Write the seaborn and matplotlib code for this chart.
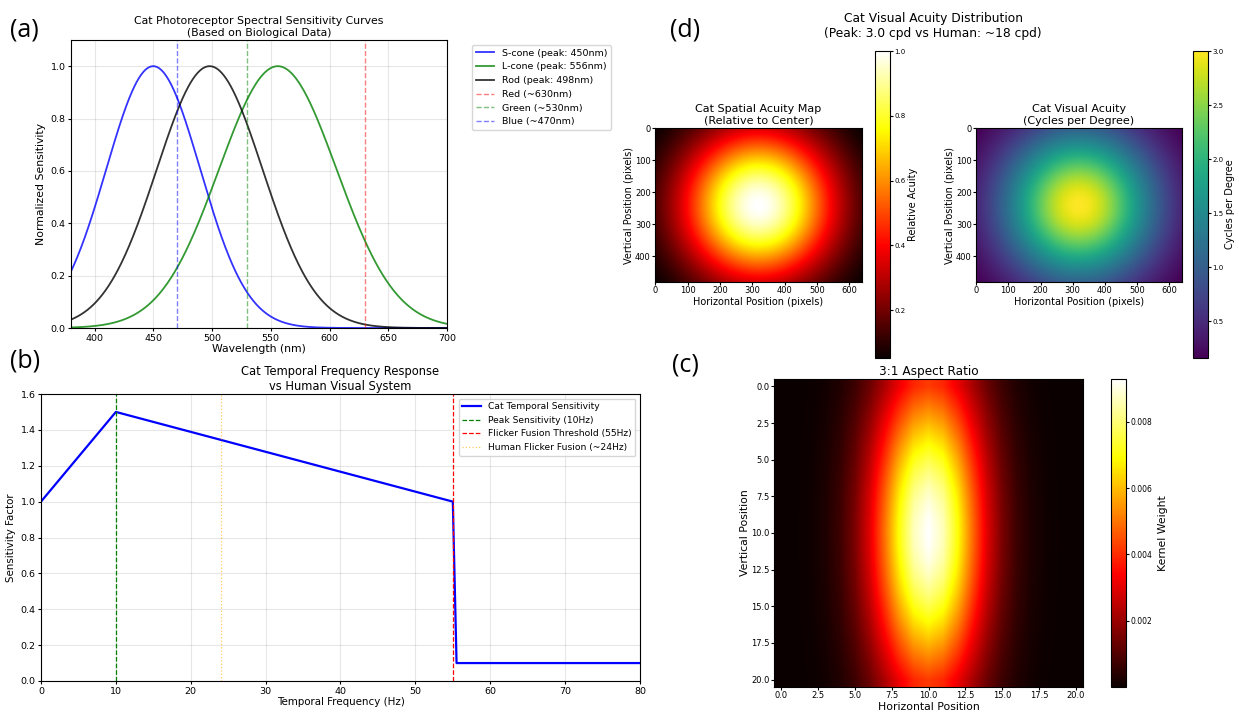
#!/usr/bin/env python3
"""
Cat vision overview: spectral sensitivity, temporal response,
spatial acuity maps and an elongated receptive-field kernel.
"""

import numpy as np
import pandas as pd
import matplotlib
matplotlib.use('Agg')
import matplotlib.pyplot as plt
import seaborn as sns

# ---- data ----
# (a) photoreceptor curves: peak wavelength and width (nm)
receptor_names = ['S-cone (peak: 450nm)', 'L-cone (peak: 556nm)', 'Rod (peak: 498nm)']
receptor_peaks = [450, 556, 498]
receptor_widths = [40, 50, 45]
receptor_colors = ['blue', 'green', 'black']
wavelength_min, wavelength_max = 380, 700

ref_names = ['Red (~630nm)', 'Green (~530nm)', 'Blue (~470nm)']
ref_wavelengths = [630, 530, 470]
ref_colors = ['red', 'green', 'blue']

# (b) temporal sensitivity, piecewise linear
temporal_freq = [0, 10, 55, 55.5, 80]
temporal_sens = [1.0, 1.5, 1.0, 0.1, 0.1]
peak_freq = 10
flicker_fusion = 55
human_flicker = 24

# (d) acuity maps
acuity_width, acuity_height = 640, 480
acuity_sigma = 165
peak_cpd = 3.0

# (c) kernel with 3:1 aspect
kernel_size = 21
kernel_sigma_x = 2.65
kernel_sigma_y = 7.95

W, H = 1239, 715
fig = plt.figure(figsize=(W / 100, H / 100), dpi=100)


def px_axes(x0, y0, x1, y1):
    """axes from pixel box (top-left origin)"""
    return fig.add_axes([x0 / W, 1 - y1 / H, (x1 - x0) / W, (y1 - y0) / H])


def panel_letter(x, y, s):
    fig.text(x / W, 1 - y / H, s, fontsize=18, family='Open Sans', va='center', ha='left')


# ---------------- (a) ----------------
ax_a = px_axes(71, 40, 447, 328)
wl = np.linspace(wavelength_min, wavelength_max, 500)
for name, pk, wd, col in zip(receptor_names, receptor_peaks, receptor_widths, receptor_colors):
    df = pd.DataFrame({'wl': wl, 's': np.exp(-(wl - pk) ** 2 / (2 * wd ** 2))})
    sns.lineplot(data=df, x='wl', y='s', ax=ax_a, color=col, linewidth=1.3, alpha=0.8, label=name)
for name, w, col in zip(ref_names, ref_wavelengths, ref_colors):
    ax_a.axvline(w, color=col, linestyle='--', linewidth=1, alpha=0.5, label=name)
ax_a.set_xlim(wavelength_min, wavelength_max)
ax_a.set_ylim(0, 1.1)
ax_a.grid(True, alpha=0.3)
ax_a.set_xlabel('Wavelength (nm)', fontsize=7.8, labelpad=1)
ax_a.set_ylabel('Normalized Sensitivity', fontsize=7.8, labelpad=3)
ax_a.set_title('Cat Photoreceptor Spectral Sensitivity Curves\n(Based on Biological Data)',
               fontsize=7.8, pad=3)
ax_a.tick_params(labelsize=6.8, length=2.5, pad=1.5)
ax_a.legend(loc='upper left', bbox_to_anchor=(1.066, 0.983), fontsize=6.8, borderaxespad=0)
panel_letter(10, 30, '(a)')

# ---------------- (b) ----------------
ax_b = px_axes(41, 394, 640, 681)
df_b = pd.DataFrame({'f': temporal_freq, 's': temporal_sens})
sns.lineplot(data=df_b, x='f', y='s', ax=ax_b, color='blue', linewidth=1.6,
             label='Cat Temporal Sensitivity')
ax_b.axvline(peak_freq, color='green', linestyle='--', linewidth=0.9, label='Peak Sensitivity (10Hz)')
ax_b.axvline(flicker_fusion, color='red', linestyle='--', linewidth=0.9,
             label='Flicker Fusion Threshold (55Hz)')
ax_b.axvline(human_flicker, color='orange', linestyle=':', linewidth=0.9, alpha=0.6,
             label='Human Flicker Fusion (~24Hz)')
ax_b.set_xlim(0, 80)
ax_b.set_ylim(0, 1.6)
ax_b.grid(True, alpha=0.3)
ax_b.set_xlabel('Temporal Frequency (Hz)', fontsize=7.4, labelpad=1)
ax_b.set_ylabel('Sensitivity Factor', fontsize=7.4, labelpad=3)
ax_b.set_title('Cat Temporal Frequency Response\nvs Human Visual System', fontsize=8.3, pad=3)
ax_b.tick_params(labelsize=6.8, length=2.5, pad=1.5)
ax_b.legend(loc='upper right', fontsize=6.6)
panel_letter(10, 361, '(b)')

# ---------------- (d) ----------------
yy, xx = np.mgrid[0:acuity_height, 0:acuity_width]
rel_acuity = np.exp(-((xx - acuity_width / 2) ** 2 + (yy - acuity_height / 2) ** 2) / (2 * acuity_sigma ** 2))
cpd = rel_acuity * peak_cpd

ax_d1 = px_axes(655, 128, 862, 282)
im1 = ax_d1.imshow(rel_acuity, cmap='hot', aspect='auto')
ax_d1.set_title('Cat Spatial Acuity Map\n(Relative to Center)', fontsize=8, pad=3)
ax_d1.set_xlabel('Horizontal Position (pixels)', fontsize=7, labelpad=1)
ax_d1.set_ylabel('Vertical Position (pixels)', fontsize=7, labelpad=1)
ax_d1.tick_params(labelsize=6, length=2, pad=1)
cax1 = px_axes(875, 51, 890, 358)
cb1 = fig.colorbar(im1, cax=cax1)
cb1.set_label('Relative Acuity', fontsize=7, labelpad=2)
cb1.ax.tick_params(labelsize=5, length=2, pad=1)

ax_d2 = px_axes(976, 128, 1182, 282)
im2 = ax_d2.imshow(cpd, cmap='viridis', aspect='auto')
ax_d2.set_title('Cat Visual Acuity\n(Cycles per Degree)', fontsize=8, pad=3)
ax_d2.set_xlabel('Horizontal Position (pixels)', fontsize=7, labelpad=1)
ax_d2.set_ylabel('Vertical Position (pixels)', fontsize=7, labelpad=1)
ax_d2.tick_params(labelsize=6, length=2, pad=1)
cax2 = px_axes(1193, 51, 1208, 358)
cb2 = fig.colorbar(im2, cax=cax2)
cb2.set_label('Cycles per Degree', fontsize=7, labelpad=1)
cb2.ax.tick_params(labelsize=5, length=2, pad=1)

fig.text(933 / W, 1 - 26 / H, 'Cat Visual Acuity Distribution\n(Peak: 3.0 cpd vs Human: ~18 cpd)',
         fontsize=8.8, ha='center', va='center')
panel_letter(670, 30, '(d)')

# ---------------- (c) ----------------
ky, kx = np.mgrid[0:kernel_size, 0:kernel_size]
c0 = kernel_size // 2
kernel = np.exp(-((kx - c0) ** 2 / (2 * kernel_sigma_x ** 2) + (ky - c0) ** 2 / (2 * kernel_sigma_y ** 2)))
kernel = kernel / kernel.sum()

ax_c = px_axes(774, 379, 1083, 687)
im3 = ax_c.imshow(kernel, cmap='hot', aspect='auto', interpolation='bilinear')
ax_c.set_title('3:1 Aspect Ratio', fontsize=8.7, pad=3)
ax_c.set_xlabel('Horizontal Position', fontsize=7.8, labelpad=1)
ax_c.set_ylabel('Vertical Position', fontsize=7.8, labelpad=1)
ax_c.set_xticks(np.arange(0, 20.1, 2.5))
ax_c.set_yticks(np.arange(0, 20.1, 2.5))
ax_c.tick_params(labelsize=6, length=2, pad=1)
cax3 = px_axes(1111, 379, 1126, 687)
cb3 = fig.colorbar(im3, cax=cax3)
cb3.set_label('Kernel Weight', fontsize=7.8)
cb3.ax.tick_params(labelsize=5.5, length=2, pad=1)
panel_letter(672, 365, '(c)')

plt.savefig('out.png', dpi=100, facecolor='white')
